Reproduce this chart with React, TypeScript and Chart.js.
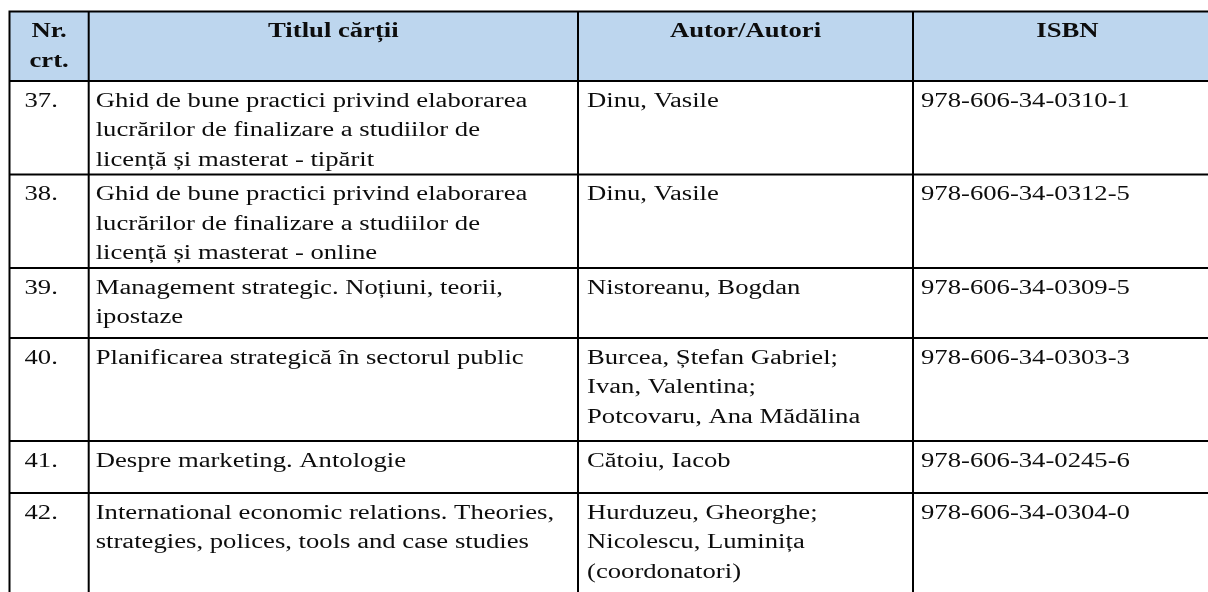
import React, { useEffect, useRef } from "react";
import { Chart, registerables } from "chart.js";

Chart.register(...registerables);

// ---------- data ----------
const HEADERS: string[][] = [["Nr.", "crt."], ["Titlul cărții"], ["Autor/Autori"], ["ISBN"]];
const ROW_NUMBERS: string[] = ["37.", "38.", "39.", "40.", "41.", "42."];
const TITLES: string[][] = [
  ["Ghid de bune practici privind elaborarea", "lucrărilor de finalizare a studiilor de", "licență și masterat - tipărit"],
  ["Ghid de bune practici privind elaborarea", "lucrărilor de finalizare a studiilor de", "licență și masterat - online"],
  ["Management strategic. Noțiuni, teorii,", "ipostaze"],
  ["Planificarea strategică în sectorul public"],
  ["Despre marketing. Antologie"],
  ["International economic relations. Theories,", "strategies, polices, tools and case studies"],
];
const AUTHORS: string[][] = [
  ["Dinu, Vasile"],
  ["Dinu, Vasile"],
  ["Nistoreanu, Bogdan"],
  ["Burcea, Ștefan Gabriel;", "Ivan, Valentina;", "Potcovaru, Ana Mădălina"],
  ["Cătoiu, Iacob"],
  ["Hurduzeu, Gheorghe;", "Nicolescu, Luminița", "(coordonatori)"],
];
const ISBNS: string[] = [
  "978-606-34-0310-1",
  "978-606-34-0312-5",
  "978-606-34-0309-5",
  "978-606-34-0303-3",
  "978-606-34-0245-6",
  "978-606-34-0304-0",
];

// ---------- layout (in scale units) ----------
const WIDTH = 1208;
const HEIGHT = 592;
const TABLE_LEFT = 9.5;
const TABLE_TOP = 11.5;
const COL_WIDTHS = [79.2, 489.3, 335, 309];
const ROW_HEIGHTS = [69.5, 93.5, 93.5, 70, 103, 52, 104];
const LINE_STEP = 29.5;
const FIRST_BASELINE = 25.7;
const PAD_LEFT = [15, 7, 9, 8];
const FONT_SIZE = 21.6;
const TEXT_STRETCH_X = 1.235;
const FONT_FAMILY = "'Liberation Serif', 'DejaVu Serif', serif";
const HEADER_BG = "#BDD6EE";
const TEXT_COLOR = "#0d0d0d";
const BORDER_COLOR = "#000000";

function cumulative(start: number, sizes: number[]): number[] {
  const out = [start];
  sizes.forEach((s) => out.push(out[out.length - 1] + s));
  return out;
}

function drawText(ctx: CanvasRenderingContext2D, t: string, x: number, y: number) {
  ctx.save();
  ctx.translate(x, y);
  ctx.scale(TEXT_STRETCH_X, 1);
  ctx.fillText(t, 0, 0);
  ctx.restore();
}

const tablePlugin = {
  id: "tablePlugin",
  afterDraw(chart: any) {
    const ctx = chart.ctx as CanvasRenderingContext2D;
    const xs = chart.scales.x;
    const ys = chart.scales.y;
    const colEdges = cumulative(TABLE_LEFT, COL_WIDTHS).map((v) => xs.getPixelForValue(v));
    const rowVals = cumulative(TABLE_TOP, ROW_HEIGHTS);
    const rowEdges = rowVals.map((v) => ys.getPixelForValue(v));
    const left = colEdges[0];
    const right = colEdges[colEdges.length - 1];
    const top = rowEdges[0];
    const bottom = rowEdges[rowEdges.length - 1];

    ctx.save();
    ctx.fillStyle = HEADER_BG;
    ctx.fillRect(left, rowEdges[0], right - left, rowEdges[1] - rowEdges[0]);

    ctx.fillStyle = TEXT_COLOR;
    ctx.textBaseline = "alphabetic";
    const lineY = (rowIdx: number, lineIdx: number) =>
      ys.getPixelForValue(rowVals[rowIdx] + FIRST_BASELINE + lineIdx * LINE_STEP);

    ctx.font = `bold ${FONT_SIZE}px ${FONT_FAMILY}`;
    ctx.textAlign = "center";
    HEADERS.forEach((lines, c) => {
      const cx = (colEdges[c] + colEdges[c + 1]) / 2;
      lines.forEach((t, i) => drawText(ctx, t, cx, lineY(0, i)));
    });

    ctx.font = `normal ${FONT_SIZE}px ${FONT_FAMILY}`;
    ctx.textAlign = "left";
    ROW_NUMBERS.forEach((num, r) => {
      const cells: string[][] = [[num], TITLES[r], AUTHORS[r], [ISBNS[r]]];
      cells.forEach((lines, c) => {
        const x = colEdges[c] + PAD_LEFT[c];
        lines.forEach((t, i) => drawText(ctx, t, x, lineY(r + 1, i)));
      });
    });

    ctx.strokeStyle = BORDER_COLOR;
    ctx.lineWidth = 2;
    ctx.beginPath();
    rowEdges.forEach((y) => {
      ctx.moveTo(left - 1, y);
      ctx.lineTo(right + 1, y);
    });
    colEdges.forEach((x) => {
      ctx.moveTo(x, top);
      ctx.lineTo(x, bottom);
    });
    ctx.stroke();
    ctx.restore();
  },
};

export default function App() {
  const canvasRef = useRef<HTMLCanvasElement | null>(null);

  useEffect(() => {
    let chart: Chart | null = null;
    let cancelled = false;
    const build = () => {
      if (cancelled || !canvasRef.current) return;
      chart = new Chart(canvasRef.current, {
        type: "scatter",
        data: { datasets: [{ data: [], pointRadius: 0 }] },
        options: {
          animation: false,
          responsive: false,
          devicePixelRatio: 1,
          layout: { padding: 0 },
          plugins: { legend: { display: false }, tooltip: { enabled: false } },
          scales: {
            x: { type: "linear", min: 0, max: WIDTH, display: false },
            y: { type: "linear", min: 0, max: HEIGHT, reverse: true, display: false },
          },
        } as any,
        plugins: [tablePlugin],
      });
    };
    const fonts = (document as any).fonts;
    if (fonts && fonts.load) {
      Promise.all([
        fonts.load(`normal ${FONT_SIZE}px 'Liberation Serif'`, "Ghid ăîșț"),
        fonts.load(`bold ${FONT_SIZE}px 'Liberation Serif'`, "Titlul cărții"),
      ])
        .catch(() => null)
        .then(() => build());
    } else {
      build();
    }
    return () => {
      cancelled = true;
      if (chart) chart.destroy();
    };
  }, []);

  return (
    <div style={{ position: "fixed", left: 0, top: 0, width: WIDTH, height: HEIGHT, background: "#fff" }}>
      <canvas ref={canvasRef} width={WIDTH} height={HEIGHT} style={{ display: "block" }} />
    </div>
  );
}
